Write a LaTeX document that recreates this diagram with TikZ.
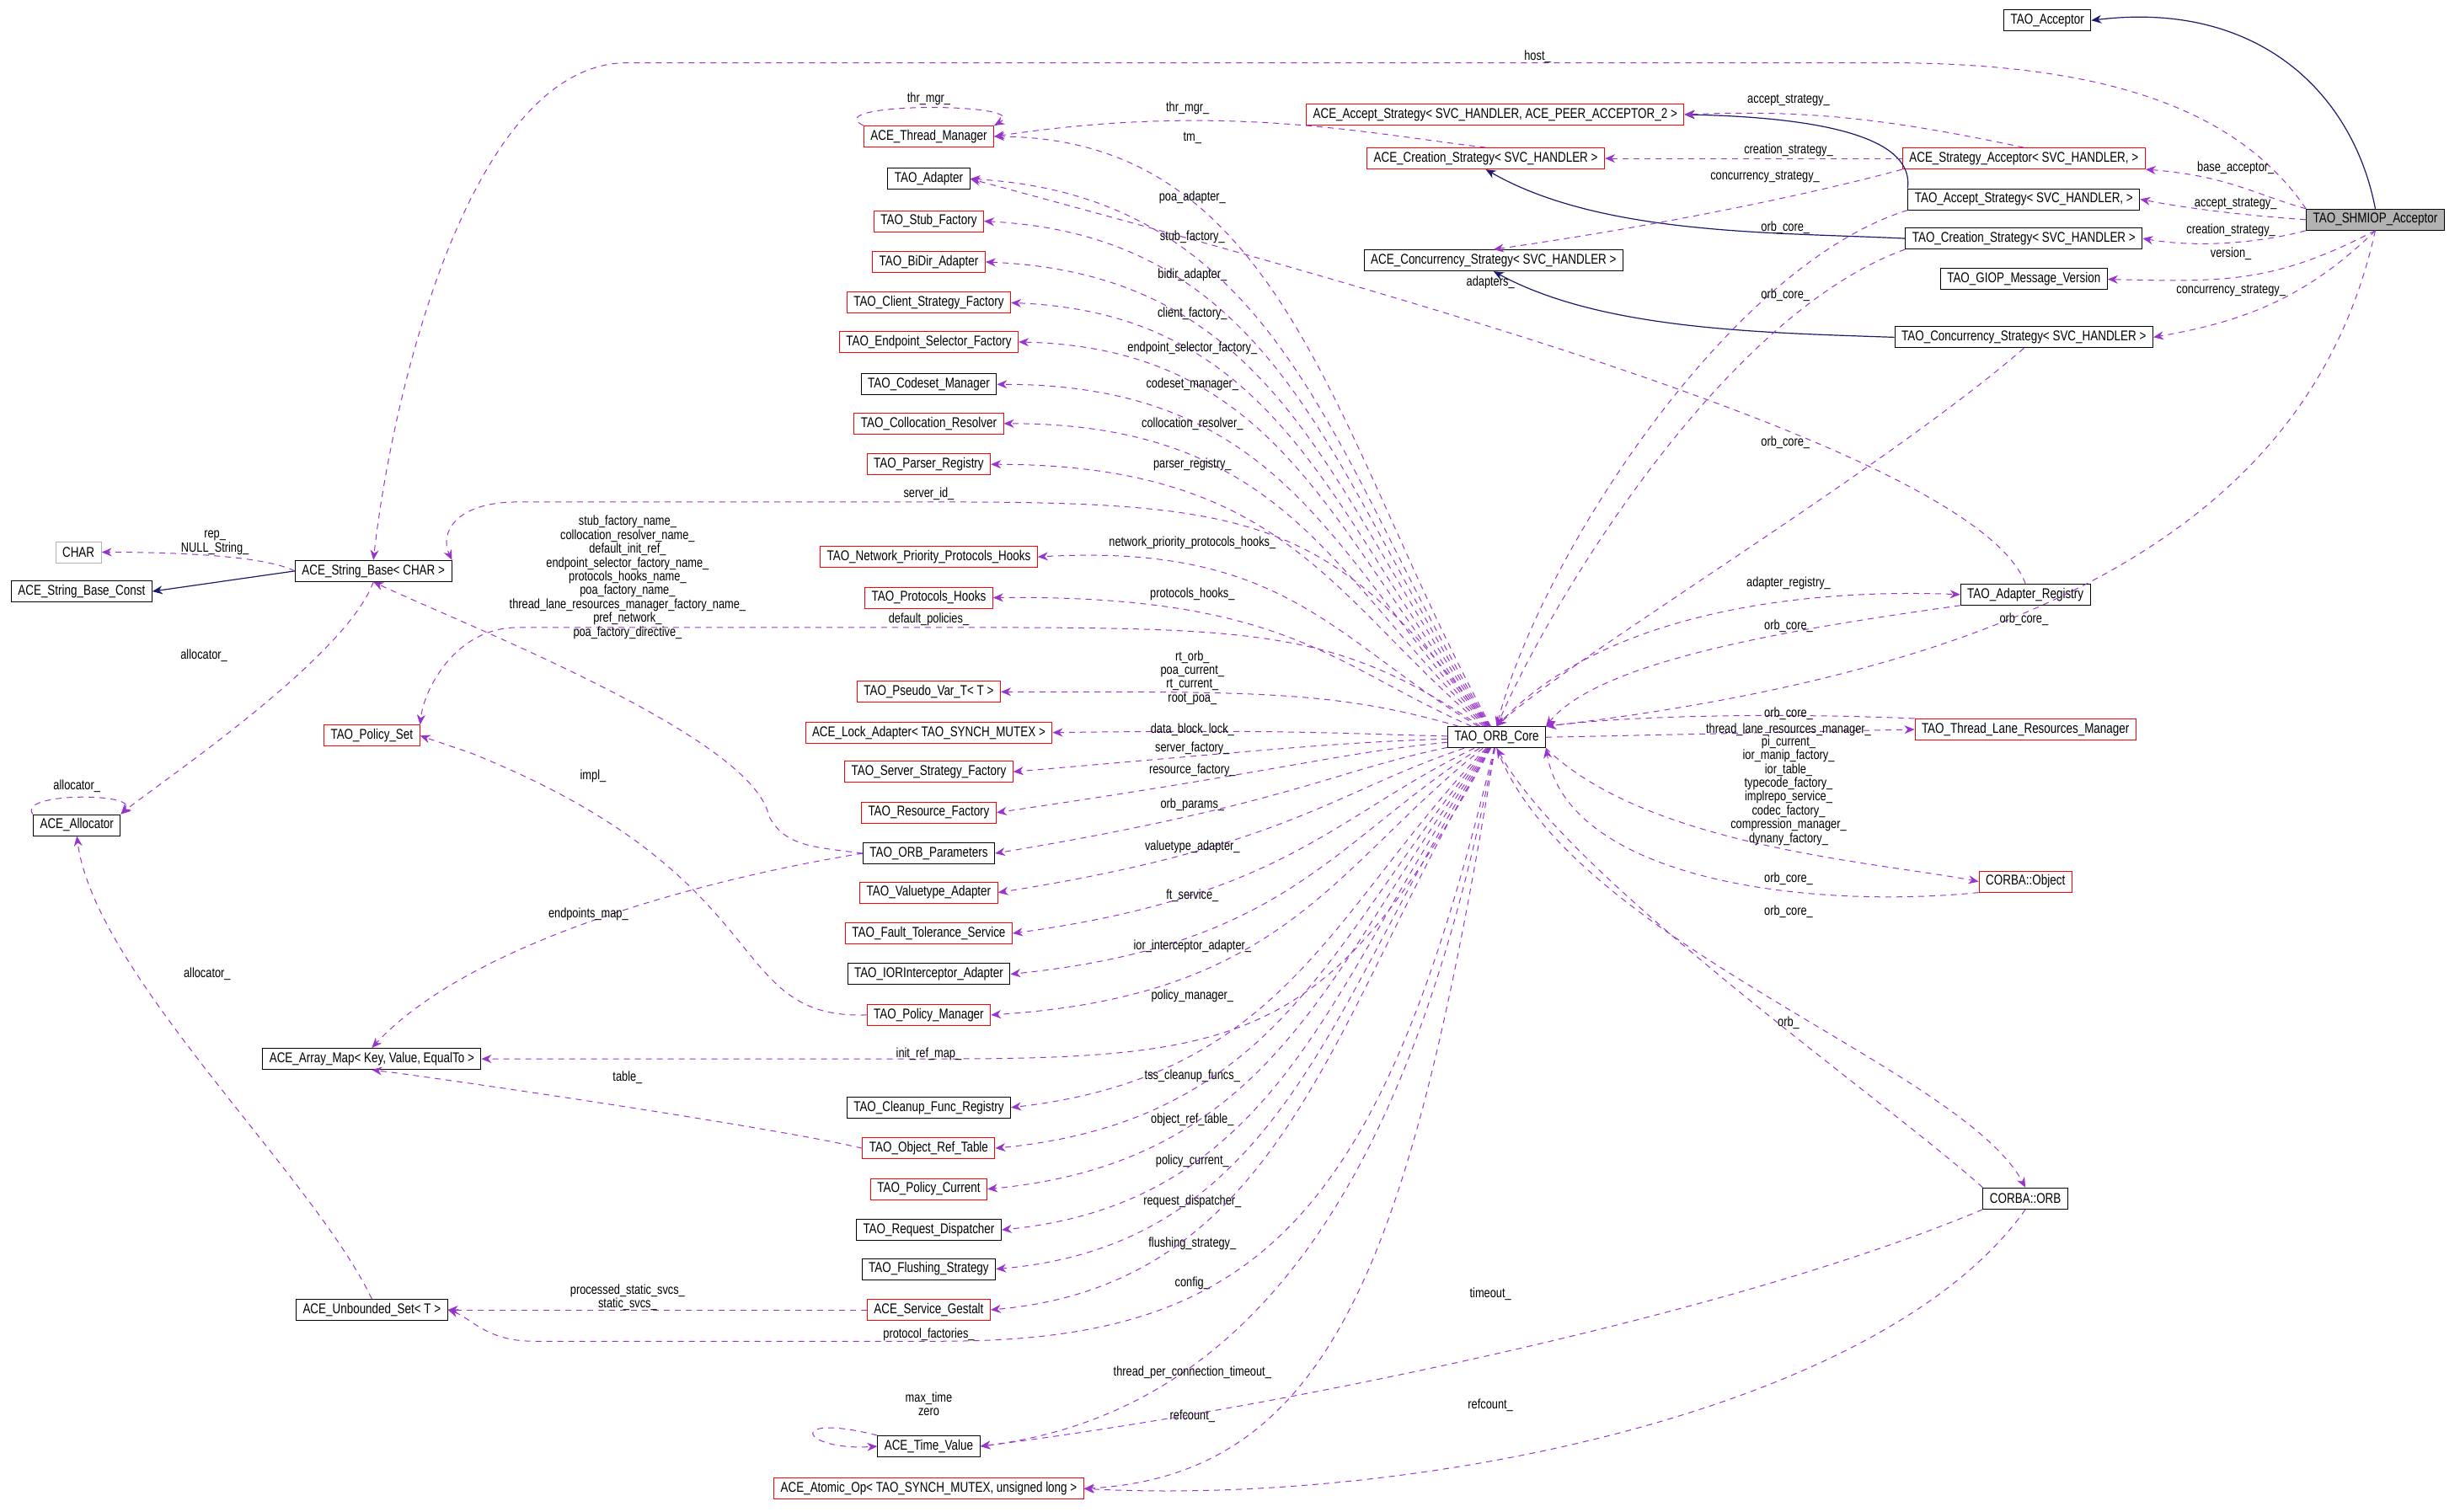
\documentclass[tikz,border=0pt]{standalone}
\usepackage{fontspec}
\setmainfont{Liberation Sans}[FakeStretch=0.8]
\usetikzlibrary{arrows.meta}
\definecolor{dep}{HTML}{9A32CD}
\definecolor{inh}{HTML}{191970}
\tikzset{
 bx/.style={draw=black,line width=0.5pt,minimum height=12.5pt,inner xsep=4pt,inner ysep=1pt,font=\fontsize{8.4}{9}\selectfont},
 rbx/.style={bx,draw=red},
 gbx/.style={bx,draw=gray!60},
 dep/.style={draw=dep,dashed,dash pattern=on 3.5pt off 3pt,line width=0.5pt,-{Stealth[length=6pt,width=5pt]}},
 inhe/.style={draw=inh,line width=0.6pt,-{Stealth[length=6pt,width=5pt]}},
 lb/.style={font=\fontsize{8}{8.2}\selectfont,inner sep=0.5pt,align=center},
}
\begin{document}
\begin{tikzpicture}[x=0.931pt,y=-0.931pt]
\useasboundingbox (0,0) rectangle (1568,963.8);
% nodes
\node[bx] (acc) at (1305,13) {TAO\_Acceptor};
\node[bx,fill=gray!60] (shm) at (1514,140) {TAO\_SHMIOP\_Acceptor};
\node[rbx] (aas) at (953,73) {ACE\_Accept\_Strategy< SVC\_HANDLER, ACE\_PEER\_ACCEPTOR\_2 >};
\node[rbx] (asa) at (1290,101) {ACE\_Strategy\_Acceptor< SVC\_HANDLER, >};
\node[rbx] (acs) at (947,101) {ACE\_Creation\_Strategy< SVC\_HANDLER >};
\node[bx] (tas) at (1290,127) {TAO\_Accept\_Strategy< SVC\_HANDLER, >};
\node[bx] (tcs) at (1290,152) {TAO\_Creation\_Strategy< SVC\_HANDLER >};
\node[bx] (acc2) at (952,166) {ACE\_Concurrency\_Strategy< SVC\_HANDLER >};
\node[bx] (giop) at (1290,178) {TAO\_GIOP\_Message\_Version};
\node[bx] (tcc) at (1290,215) {TAO\_Concurrency\_Strategy< SVC\_HANDLER >};
\node[rbx] (thm) at (592,87) {ACE\_Thread\_Manager};
\node[bx] (ada) at (592,114) {TAO\_Adapter};
\node[rbx] (stf) at (592,141) {TAO\_Stub\_Factory};
\node[rbx] (bid) at (592,167) {TAO\_BiDir\_Adapter};
\node[rbx] (csf) at (592,193) {TAO\_Client\_Strategy\_Factory};
\node[rbx] (esf) at (592,218) {TAO\_Endpoint\_Selector\_Factory};
\node[bx] (cdm) at (592,245) {TAO\_Codeset\_Manager};
\node[rbx] (col) at (592,270) {TAO\_Collocation\_Resolver};
\node[rbx] (par) at (592,296) {TAO\_Parser\_Registry};
\node[rbx] (npp) at (592,355) {TAO\_Network\_Priority\_Protocols\_Hooks};
\node[rbx] (prh) at (592,381) {TAO\_Protocols\_Hooks};
\node[rbx] (psv) at (592,441) {TAO\_Pseudo\_Var\_T< T >};
\node[rbx] (lka) at (592,467) {ACE\_Lock\_Adapter< TAO\_SYNCH\_MUTEX >};
\node[rbx] (ssf) at (592,492) {TAO\_Server\_Strategy\_Factory};
\node[rbx] (rsf) at (592,518) {TAO\_Resource\_Factory};
\node[bx] (orp) at (592,544) {TAO\_ORB\_Parameters};
\node[rbx] (vta) at (592,569) {TAO\_Valuetype\_Adapter};
\node[rbx] (fts) at (592,595) {TAO\_Fault\_Tolerance\_Service};
\node[bx] (ior) at (592,621) {TAO\_IORInterceptor\_Adapter};
\node[rbx] (pom) at (592,647) {TAO\_Policy\_Manager};
\node[bx] (cfr) at (592,706) {TAO\_Cleanup\_Func\_Registry};
\node[rbx] (ort) at (592,732) {TAO\_Object\_Ref\_Table};
\node[rbx] (poc) at (592,758) {TAO\_Policy\_Current};
\node[bx] (rqd) at (592,784) {TAO\_Request\_Dispatcher};
\node[bx] (fls) at (592,809) {TAO\_Flushing\_Strategy};
\node[rbx] (svg) at (592,835) {ACE\_Service\_Gestalt};
\node[bx] (tmv) at (592,922) {ACE\_Time\_Value};
\node[rbx] (ato) at (592,949) {ACE\_Atomic\_Op< TAO\_SYNCH\_MUTEX, unsigned long >};
\node[bx] (core) at (954,470) {TAO\_ORB\_Core};
\node[bx] (adr) at (1291,379) {TAO\_Adapter\_Registry};
\node[rbx] (tlr) at (1291,465) {TAO\_Thread\_Lane\_Resources\_Manager};
\node[rbx] (cob) at (1291,562) {CORBA::Object};
\node[bx] (corb) at (1291,764) {CORBA::ORB};
\node[gbx] (chr) at (50,352) {CHAR};
\node[bx] (sbc) at (52,377) {ACE\_String\_Base\_Const};
\node[bx] (sb) at (238,364) {ACE\_String\_Base< CHAR >};
\node[rbx] (pos) at (237,469) {TAO\_Policy\_Set};
\node[bx] (all) at (49,526) {ACE\_Allocator};
\node[bx] (arm) at (237,675) {ACE\_Array\_Map< Key, Value, EqualTo >};
\node[bx] (ubs) at (237,835) {ACE\_Unbounded\_Set< T >};
% inheritance
\draw[inhe] (shm.north) .. controls (1500,60) and (1440,0) .. (acc.east);
\draw[inhe] (tas.north west) .. controls (1220,90) and (1170,75) .. (aas.east);
\draw[inhe] (tcs.west) .. controls (1130,148) and (1020,150) .. (acs.south);
\draw[inhe] (tcc.west) .. controls (1120,212) and (1020,210) .. (acc2.south);
\draw[inhe] (sb.west) -- (sbc.east);
% top right dependencies
\draw[dep] (shm.north west) .. controls (1420,60) and (1320,40) .. (1200,40) -- (400,40) .. controls (300,40) and (250,250) .. (sb.north);
\node[lb] at (980,36) {host\_};
\draw[dep] (shm.north west) .. controls (1440,125) and (1420,112) .. (asa.south east); \node[lb] at (1425,107) {base\_acceptor\_};
\draw[dep] (shm.west) .. controls (1440,138) and (1400,134) .. (tas.east); \node[lb] at (1425,130) {accept\_strategy\_};
\draw[dep] (shm.south west) .. controls (1440,155) and (1400,158) .. (tcs.east); \node[lb] at (1422,147) {creation\_strategy\_};
\draw[dep] (shm.south) .. controls (1450,180) and (1420,180) .. (giop.east); \node[lb] at (1422,162) {version\_};
\draw[dep] (shm.south) .. controls (1470,190) and (1430,205) .. (tcc.east); \node[lb] at (1422,185) {concurrency\_strategy\_};
\draw[dep] (shm.south) .. controls (1480,300) and (1350,420) .. (core.north east); \node[lb] at (1290,395) {orb\_core\_};
\draw[dep] (asa.north) .. controls (1200,75) and (1150,70) .. (aas.east); \node[lb] at (1140,64) {accept\_strategy\_};
\draw[dep] (asa.west) -- (acs.east); \node[lb] at (1140,96) {creation\_strategy\_};
\draw[dep] (asa.south west) .. controls (1150,125) and (1050,145) .. (acc2.north); \node[lb] at (1125,113) {concurrency\_strategy\_};
\draw[dep] (acs.north) .. controls (870,85) and (780,65) .. (thm.east); \node[lb] at (757,69) {thr\_mgr\_};
\draw[dep] (thm.north west) .. controls (520,65) and (660,65) .. (thm.north east); \node[lb] at (592,63) {thr\_mgr\_};
\draw[dep] (tas.south west) .. controls (1100,170) and (980,360) .. (core.north); \node[lb] at (1138,145) {orb\_core\_};
\draw[dep] (tcs.south west) .. controls (1100,200) and (990,380) .. (core.north); \node[lb] at (1138,188) {orb\_core\_};
\draw[dep] (tcc.south) .. controls (1200,300) and (1000,420) .. (core.north); \node[lb] at (1138,282) {orb\_core\_};
\draw[dep] (adr.north) .. controls (1260,290) and (900,190) .. (ada.east); \node[lb] at (950,180) {adapters\_};
\draw[dep] (core.north) .. controls (1020,390) and (1150,375) .. (adr.west); \node[lb] at (1140,372) {adapter\_registry\_};
\draw[dep] (adr.south west) .. controls (1150,400) and (1020,420) .. (core.north east); \node[lb] at (1140,399) {orb\_core\_};
\draw[dep] (tlr.north west) .. controls (1150,455) and (1050,455) .. (core.north east); \node[lb] at (1140,455) {orb\_core\_};
\draw[dep] (core.east) -- (tlr.west); \node[lb] at (1140,465) {thread\_lane\_resources\_manager\_};
\draw[dep] (core.south east) .. controls (1050,540) and (1200,550) .. (cob.west);
\node[lb] at (1140,504) {pi\_current\_\\ior\_manip\_factory\_\\ior\_table\_\\typecode\_factory\_\\implrepo\_service\_\\codec\_factory\_\\compression\_manager\_\\dynany\_factory\_};
\draw[dep] (cob.south west) .. controls (1150,580) and (1000,560) .. (core.south east); \node[lb] at (1140,560) {orb\_core\_};
\draw[dep] (corb.north west) .. controls (1200,700) and (1000,560) .. (core.south); \node[lb] at (1140,581) {orb\_core\_};
\draw[dep] (core.south) .. controls (1000,600) and (1250,680) .. (corb.north); \node[lb] at (1140,652) {orb\_};
% ORB core fan
\foreach \n/\l/\lx/\ly in {thm/tm\_/760/88, ada/poa\_adapter\_/760/126, stf/stub\_factory\_/760/151, bid/bidir\_adapter\_/760/175,
 csf/client\_factory\_/760/200, esf/endpoint\_selector\_factory\_/760/222, cdm/codeset\_manager\_/760/245, col/collocation\_resolver\_/760/270,
 par/parser\_registry\_/760/296, npp/network\_priority\_protocols\_hooks\_/760/346, prh/protocols\_hooks\_/760/379, lka/data\_block\_lock\_/760/465,
 ssf/server\_factory\_/760/477, rsf/resource\_factory\_/760/491, orp/orb\_params\_/760/513, vta/valuetype\_adapter\_/760/540,
 fts/ft\_service\_/760/571, ior/ior\_interceptor\_adapter\_/760/603, pom/policy\_manager\_/760/635, cfr/tss\_cleanup\_funcs\_/760/686,
 ort/object\_ref\_table\_/760/714, poc/policy\_current\_/760/740, rqd/request\_dispatcher\_/760/766, fls/flushing\_strategy\_/760/793,
 svg/config\_/760/818}{
 \draw[dep] (core) .. controls (850,{(\ly+470)/2}) and (820,\ly) .. (\n.east);
 \node[lb] at (\lx,\ly) {\l};
}
\draw[dep] (core) .. controls (850,440) and (800,441) .. (psv.east);
\node[lb] at (760,432) {rt\_orb\_\\poa\_current\_\\rt\_current\_\\root\_poa\_};
\draw[dep] (core) .. controls (850,330) and (800,320) .. (600,320) -- (330,320) .. controls (290,320) and (280,340) .. (sb.north east); \node[lb] at (592,315) {server\_id\_};
\draw[dep] (core) .. controls (850,400) and (800,400) .. (600,400) -- (330,400) .. controls (290,400) and (270,440) .. (pos.north east); \node[lb] at (592,395) {default\_policies\_};
\draw[dep] (core) .. controls (850,660) and (800,675) .. (600,675) -- (arm.east); \node[lb] at (592,672) {init\_ref\_map\_};
\draw[dep] (core) .. controls (880,780) and (800,855) .. (600,855) -- (340,855) .. controls (310,855) and (300,840) .. (ubs.east); \node[lb] at (592,851) {protocol\_factories\_};
\draw[dep] (core) .. controls (900,750) and (800,900) .. (tmv.east); \node[lb] at (760,875) {thread\_per\_connection\_timeout\_};
\draw[dep] (core) .. controls (900,800) and (850,940) .. (ato.east); \node[lb] at (760,903) {refcount\_};
\draw[dep] (corb.south west) .. controls (1100,840) and (800,900) .. (tmv.east); \node[lb] at (950,825) {timeout\_};
\draw[dep] (corb.south) .. controls (1200,900) and (900,960) .. (ato.east); \node[lb] at (950,896) {refcount\_};
\draw[dep] (tmv.north west) .. controls (500,900) and (510,925) .. (tmv.west); \node[lb] at (592,895) {max\_time\\zero};
% left side
\draw[dep] (orp.west) .. controls (520,540) and (500,540) .. (490,520) .. controls (480,470) and (300,400) .. (sb.south);
\node[lb] at (400,368) {stub\_factory\_name\_\\collocation\_resolver\_name\_\\default\_init\_ref\_\\endpoint\_selector\_factory\_name\_\\protocols\_hooks\_name\_\\poa\_factory\_name\_\\thread\_lane\_resources\_manager\_factory\_name\_\\pref\_network\_\\poa\_factory\_directive\_};
\draw[dep] (orp.west) .. controls (450,560) and (300,600) .. (arm.north); \node[lb] at (375,583) {endpoints\_map\_};
\draw[dep] (pom.west) .. controls (460,650) and (500,560) .. (300,480) -- (pos.east); \node[lb] at (378,495) {impl\_};
\draw[dep] (ort.west) .. controls (500,720) and (300,690) .. (arm.south); \node[lb] at (400,687) {table\_};
\draw[dep] (svg.west) -- (ubs.east); \node[lb] at (400,827) {processed\_static\_svcs\_\\static\_svcs\_};
\draw[dep] (ubs.north) .. controls (200,750) and (60,620) .. (all.south); \node[lb] at (132,621) {allocator\_};
\draw[dep] (sb.south) .. controls (220,420) and (100,500) .. (all.north east); \node[lb] at (130,418) {allocator\_};
\draw[dep] (sb.west) .. controls (170,355) and (120,352) .. (chr.east); \node[lb] at (137,346) {rep\_\\NULL\_String\_};
\draw[dep] (all.north west) .. controls (10,505) and (90,505) .. (all.north east); \node[lb] at (49,501) {allocator\_};
\end{tikzpicture}
\end{document}
